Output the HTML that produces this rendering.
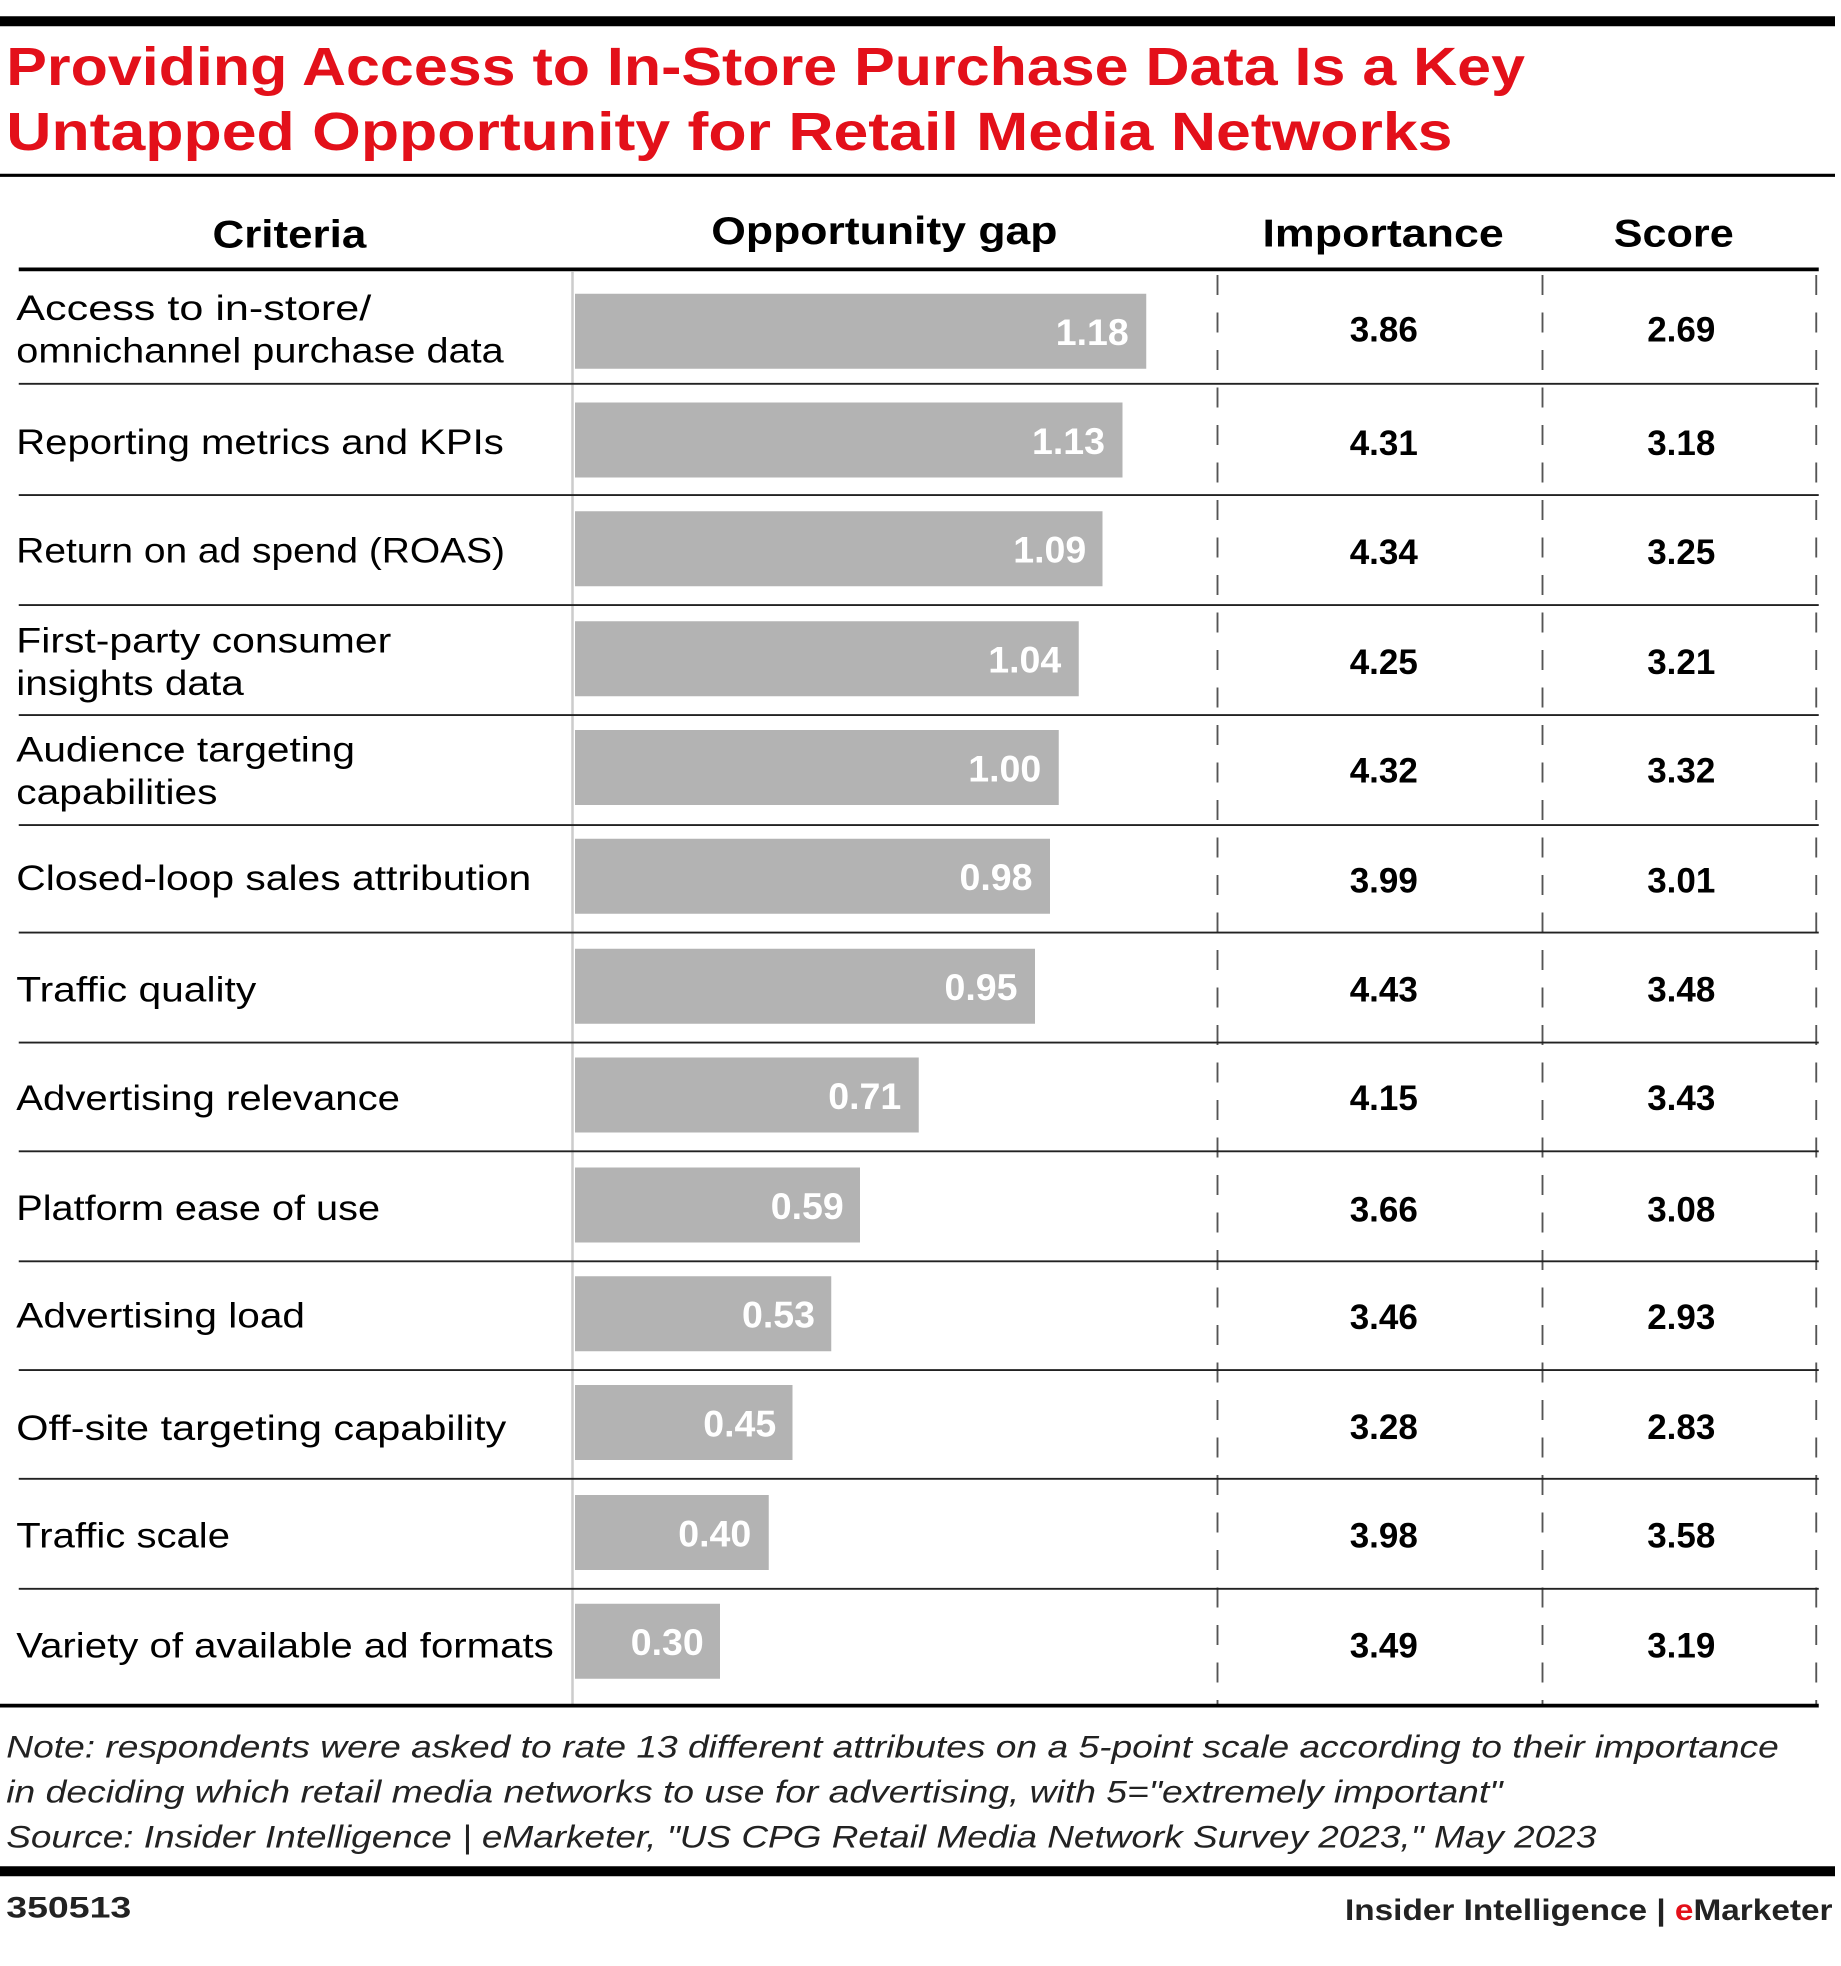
<!DOCTYPE html>
<html><head><meta charset="utf-8"><style>
html,body{margin:0;padding:0;background:#fff}
svg{display:block}
text{font-family:"Liberation Sans",sans-serif}
</style></head><body>
<svg width="1841" height="1966" viewBox="0 0 1472.8 1572.8" xmlns="http://www.w3.org/2000/svg">
<rect x="0" y="13" width="1468" height="8" fill="#000"/>
<g fill="#e3101a" font-weight="bold" font-size="43">
<text x="5" y="68" textLength="1215" lengthAdjust="spacingAndGlyphs">Providing Access to In-Store Purchase Data Is a Key</text>
<text x="5" y="120" textLength="1157" lengthAdjust="spacingAndGlyphs">Untapped Opportunity for Retail Media Networks</text>
</g>
<rect x="0" y="139" width="1468" height="2.5" fill="#000"/>
<g font-size="31" font-weight="bold" fill="#000" lengthAdjust="spacingAndGlyphs">
<text x="170" y="198" textLength="123" lengthAdjust="spacingAndGlyphs">Criteria</text>
<text x="569" y="195" textLength="277" lengthAdjust="spacingAndGlyphs">Opportunity gap</text>
<text x="1010" y="197" textLength="193" lengthAdjust="spacingAndGlyphs">Importance</text>
<text x="1291" y="197" textLength="96" lengthAdjust="spacingAndGlyphs">Score</text>
</g>
<rect x="15" y="214" width="1440" height="3" fill="#000"/>
<line x1="458" y1="217" x2="458" y2="1364" stroke="#ccc" stroke-width="2"/>
<g stroke="#555" stroke-width="1.5" stroke-dasharray="16,14">
<line x1="974" y1="220" x2="974" y2="1364"/>
<line x1="1234" y1="220" x2="1234" y2="1364"/>
<line x1="1453" y1="220" x2="1453" y2="1364"/>
</g>
<g stroke="#222" stroke-width="1.5">
<line x1="15" y1="307" x2="1455" y2="307"/>
<line x1="15" y1="396" x2="1455" y2="396"/>
<line x1="15" y1="484" x2="1455" y2="484"/>
<line x1="15" y1="572" x2="1455" y2="572"/>
<line x1="15" y1="660" x2="1455" y2="660"/>
<line x1="15" y1="746" x2="1455" y2="746"/>
<line x1="15" y1="834" x2="1455" y2="834"/>
<line x1="15" y1="921" x2="1455" y2="921"/>
<line x1="15" y1="1009" x2="1455" y2="1009"/>
<line x1="15" y1="1096" x2="1455" y2="1096"/>
<line x1="15" y1="1183" x2="1455" y2="1183"/>
<line x1="15" y1="1271" x2="1455" y2="1271"/>
</g>
<rect x="0" y="1363" width="1455" height="3" fill="#000"/>
<g fill="#b3b3b3">
<rect x="460" y="235" width="457" height="60"/>
<rect x="460" y="322" width="438" height="60"/>
<rect x="460" y="409" width="422" height="60"/>
<rect x="460" y="497" width="403" height="60"/>
<rect x="460" y="584" width="387" height="60"/>
<rect x="460" y="671" width="380" height="60"/>
<rect x="460" y="759" width="368" height="60"/>
<rect x="460" y="846" width="275" height="60"/>
<rect x="460" y="934" width="228" height="60"/>
<rect x="460" y="1021" width="205" height="60"/>
<rect x="460" y="1108" width="174" height="60"/>
<rect x="460" y="1196" width="155" height="60"/>
<rect x="460" y="1283" width="116" height="60"/>
</g>
<g fill="#fff" font-size="30" font-weight="bold" text-anchor="end">
<text x="903" y="276">1.18</text>
<text x="884" y="363">1.13</text>
<text x="869" y="450">1.09</text>
<text x="849" y="538">1.04</text>
<text x="833" y="625">1.00</text>
<text x="826" y="712">0.98</text>
<text x="814" y="800">0.95</text>
<text x="721" y="887">0.71</text>
<text x="675" y="975">0.59</text>
<text x="652" y="1062">0.53</text>
<text x="621" y="1149">0.45</text>
<text x="601" y="1237">0.40</text>
<text x="563" y="1324">0.30</text>
</g>
<g font-size="28" fill="#000">
<text x="13" y="256" textLength="284" lengthAdjust="spacingAndGlyphs">Access to in-store/</text>
<text x="13" y="290" textLength="390" lengthAdjust="spacingAndGlyphs">omnichannel purchase data</text>
<text x="13" y="363" textLength="390" lengthAdjust="spacingAndGlyphs">Reporting metrics and KPIs</text>
<text x="13" y="450" textLength="391" lengthAdjust="spacingAndGlyphs">Return on ad spend (ROAS)</text>
<text x="13" y="522" textLength="300" lengthAdjust="spacingAndGlyphs">First-party consumer</text>
<text x="13" y="556" textLength="182" lengthAdjust="spacingAndGlyphs">insights data</text>
<text x="13" y="609" textLength="271" lengthAdjust="spacingAndGlyphs">Audience targeting</text>
<text x="13" y="643" textLength="161" lengthAdjust="spacingAndGlyphs">capabilities</text>
<text x="13" y="712" textLength="412" lengthAdjust="spacingAndGlyphs">Closed-loop sales attribution</text>
<text x="13" y="801" textLength="192" lengthAdjust="spacingAndGlyphs">Traffic quality</text>
<text x="13" y="888" textLength="307" lengthAdjust="spacingAndGlyphs">Advertising relevance</text>
<text x="13" y="976" textLength="291" lengthAdjust="spacingAndGlyphs">Platform ease of use</text>
<text x="13" y="1062" textLength="231" lengthAdjust="spacingAndGlyphs">Advertising load</text>
<text x="13" y="1152" textLength="392" lengthAdjust="spacingAndGlyphs">Off-site targeting capability</text>
<text x="13" y="1238" textLength="171" lengthAdjust="spacingAndGlyphs">Traffic scale</text>
<text x="13" y="1326" textLength="430" lengthAdjust="spacingAndGlyphs">Variety of available ad formats</text>
</g>
<g font-size="28" font-weight="bold" text-anchor="middle" fill="#000">
<text x="1107" y="273">3.86</text><text x="1345" y="273">2.69</text>
<text x="1107" y="364">4.31</text><text x="1345" y="364">3.18</text>
<text x="1107" y="451">4.34</text><text x="1345" y="451">3.25</text>
<text x="1107" y="539">4.25</text><text x="1345" y="539">3.21</text>
<text x="1107" y="626">4.32</text><text x="1345" y="626">3.32</text>
<text x="1107" y="714">3.99</text><text x="1345" y="714">3.01</text>
<text x="1107" y="801">4.43</text><text x="1345" y="801">3.48</text>
<text x="1107" y="888">4.15</text><text x="1345" y="888">3.43</text>
<text x="1107" y="977">3.66</text><text x="1345" y="977">3.08</text>
<text x="1107" y="1063">3.46</text><text x="1345" y="1063">2.93</text>
<text x="1107" y="1151">3.28</text><text x="1345" y="1151">2.83</text>
<text x="1107" y="1238">3.98</text><text x="1345" y="1238">3.58</text>
<text x="1107" y="1326">3.49</text><text x="1345" y="1326">3.19</text>
</g>
<g font-size="25.5" font-style="italic" fill="#222">
<text x="5" y="1406" textLength="1418" lengthAdjust="spacingAndGlyphs">Note: respondents were asked to rate 13 different attributes on a 5-point scale according to their importance</text>
<text x="5" y="1442" textLength="1197" lengthAdjust="spacingAndGlyphs">in deciding which retail media networks to use for advertising, with 5="extremely important"</text>
<text x="5" y="1478" textLength="1272" lengthAdjust="spacingAndGlyphs">Source: Insider Intelligence | eMarketer, "US CPG Retail Media Network Survey 2023," May 2023</text>
</g>
<rect x="0" y="1493" width="1468" height="8" fill="#000"/>
<text x="5" y="1534" font-size="24" font-weight="bold" fill="#222" textLength="100" lengthAdjust="spacingAndGlyphs">350513</text>
<text x="1076" y="1536" font-size="24" font-weight="bold" fill="#222" textLength="390" lengthAdjust="spacingAndGlyphs">Insider Intelligence | <tspan fill="#e3101a">e</tspan>Marketer</text>
</svg>
</body></html>
